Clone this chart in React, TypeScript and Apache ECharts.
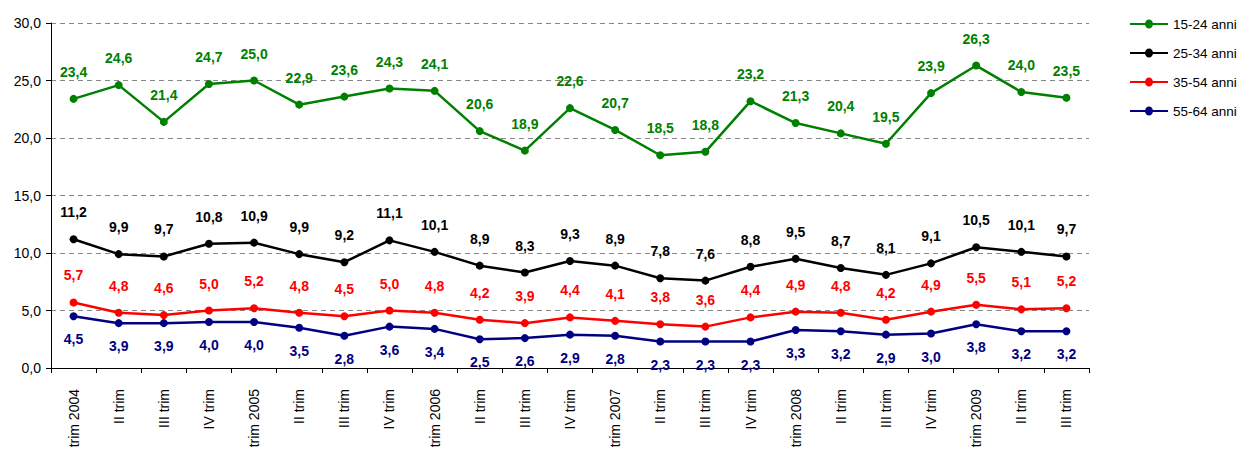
import React, { useEffect, useRef } from "react";
import * as echarts from "echarts";

const categories = [
  "trim 2004", "II trim", "III trim", "IV trim",
  "trim 2005", "II trim", "III trim", "IV trim",
  "trim 2006", "II trim", "III trim", "IV trim",
  "trim 2007", "II trim", "III trim", "IV trim",
  "trim 2008", "II trim", "III trim", "IV trim",
  "trim 2009", "II trim", "III trim",
];

const s1524 = [23.4, 24.6, 21.4, 24.7, 25.0, 22.9, 23.6, 24.3, 24.1, 20.6, 18.9, 22.6, 20.7, 18.5, 18.8, 23.2, 21.3, 20.4, 19.5, 23.9, 26.3, 24.0, 23.5];
const s2534 = [11.2, 9.9, 9.7, 10.8, 10.9, 9.9, 9.2, 11.1, 10.1, 8.9, 8.3, 9.3, 8.9, 7.8, 7.6, 8.8, 9.5, 8.7, 8.1, 9.1, 10.5, 10.1, 9.7];
const s3554 = [5.7, 4.8, 4.6, 5.0, 5.2, 4.8, 4.5, 5.0, 4.8, 4.2, 3.9, 4.4, 4.1, 3.8, 3.6, 4.4, 4.9, 4.8, 4.2, 4.9, 5.5, 5.1, 5.2];
const s5564 = [4.5, 3.9, 3.9, 4.0, 4.0, 3.5, 2.8, 3.6, 3.4, 2.5, 2.6, 2.9, 2.8, 2.3, 2.3, 2.3, 3.3, 3.2, 2.9, 3.0, 3.8, 3.2, 3.2];

const seriesNames = ["15-24 anni", "25-34 anni", "35-54 anni", "55-64 anni"];
const seriesColors = ["#008000", "#000000", "#ff0000", "#000080"];

const FONT = "'Liberation Sans', Arial, sans-serif";

const fmt = (v: number) => v.toFixed(1).replace(".", ",");

export default function App() {
  const ref = useRef<HTMLDivElement>(null);
  useEffect(() => {
    document.body.style.margin = "0";
    document.body.style.overflow = "hidden";
    if (!ref.current) return;
    const chart = echarts.init(ref.current, null, { renderer: "svg" });
    const data = [s1524, s2534, s3554, s5564];
    chart.setOption({
      animation: false,
      textStyle: { fontFamily: FONT },
      grid: { left: 51, right: 151, top: 23, bottom: 86, containLabel: false },
      legend: {
        orient: "vertical",
        left: 1125,
        top: 12,
        itemWidth: 38,
        itemHeight: 9,
        itemGap: 15,
        icon: "path://M0,3.4 L38,3.4 L38,5.6 L0,5.6 Z M23,4.5 A4,4.5 0 1,1 15,4.5 A4,4.5 0 1,1 23,4.5 Z",
        textStyle: { fontFamily: FONT, fontSize: 13.5, color: "#000" },
        data: seriesNames,
      },
      xAxis: {
        type: "category",
        data: categories,
        boundaryGap: true,
        axisLine: { lineStyle: { color: "#000", width: 1 } },
        axisTick: { show: true, length: 5, lineStyle: { color: "#000" } },
        axisLabel: {
          rotate: 90,
          margin: 21,
          color: "#000",
          fontFamily: FONT,
          fontSize: 14,
          interval: 0,
        },
      },
      yAxis: {
        type: "value",
        min: 0,
        max: 30,
        interval: 5,
        axisLine: { show: true, lineStyle: { color: "#000", width: 1 } },
        axisTick: { show: true, length: 5, lineStyle: { color: "#000" } },
        axisLabel: {
          color: "#000",
          fontFamily: FONT,
          fontSize: 14,
          margin: 10,
          formatter: (v: number) => fmt(v),
        },
        splitLine: { show: true, lineStyle: { color: "#888", type: [5, 4], width: 1 } },
      },
      series: data.map((d, i) => ({
        name: seriesNames[i],
        type: "line",
        data: d,
        color: seriesColors[i],
        symbol: "circle",
        symbolSize: 8,
        lineStyle: { width: 2.5, color: seriesColors[i] },
        itemStyle: { color: seriesColors[i] },
        label: {
          show: true,
          position: i === 3 ? "bottom" : "top",
          distance: i === 3 ? 12 : 16,
          color: seriesColors[i],
          fontFamily: FONT,
          fontWeight: "bold",
          fontSize: 14,
          formatter: (p: any) => fmt(p.value),
        },
      })),
    });
    return () => chart.dispose();
  }, []);
  return <div ref={ref} style={{ width: 1240, height: 454, position: "absolute", left: 0, top: 0 }} />;
}
